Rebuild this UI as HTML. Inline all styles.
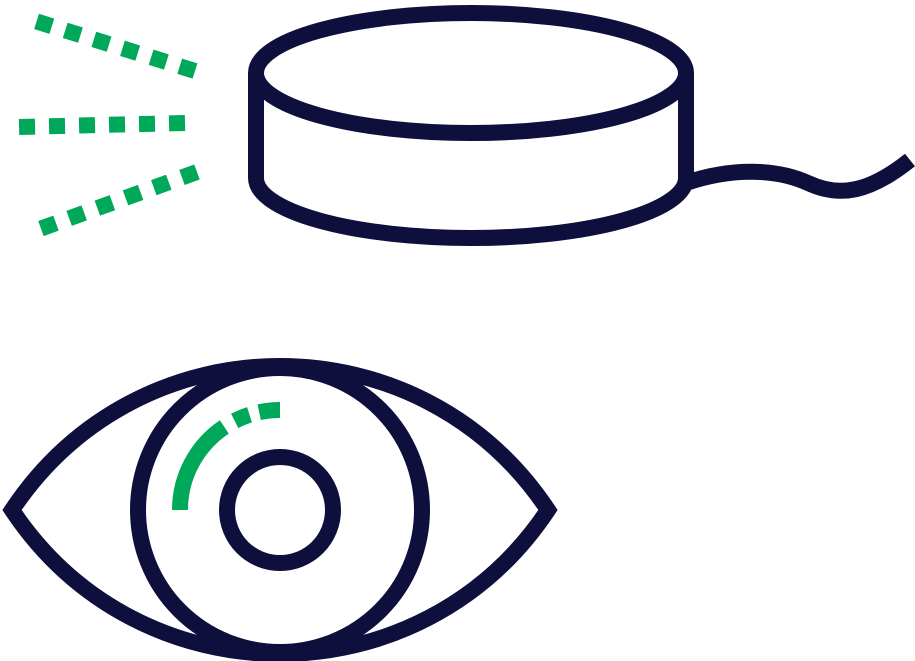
<!DOCTYPE html>
<html><head><meta charset="utf-8"><style>html,body{margin:0;padding:0;background:#fff}svg{display:block}</style></head>
<body>
<svg width="915" height="661" viewBox="0 0 915 661" xmlns="http://www.w3.org/2000/svg" fill="none" stroke-width="16">
<g stroke="#0e0f3d">
<ellipse cx="471" cy="73" rx="215" ry="60"/>
<path d="M256 73 V178 A215 60 0 0 0 686 178 V73"/>
<path d="M686 183 C730 168 775 168 808 183 C840 198 870 192 910 160"/>
<path d="M12 510 C140 318 420 318 548 510 C420 702 140 702 12 510 Z" stroke-linejoin="miter"/>
<circle cx="280" cy="510" r="142"/>
<circle cx="280" cy="510" r="53"/>
</g>
<g stroke="#00a85a">
<path d="M195 71 L32 20" stroke-dasharray="16 14"/>
<path d="M185 123 L17 127" stroke-dasharray="16 14"/>
<path d="M197 172 L37 230" stroke-dasharray="16 14"/>
<path d="M180 510 A100 100 0 0 1 280 410" stroke-dasharray="98 12 16 10 30"/>
</g>
</svg>
</body></html>
